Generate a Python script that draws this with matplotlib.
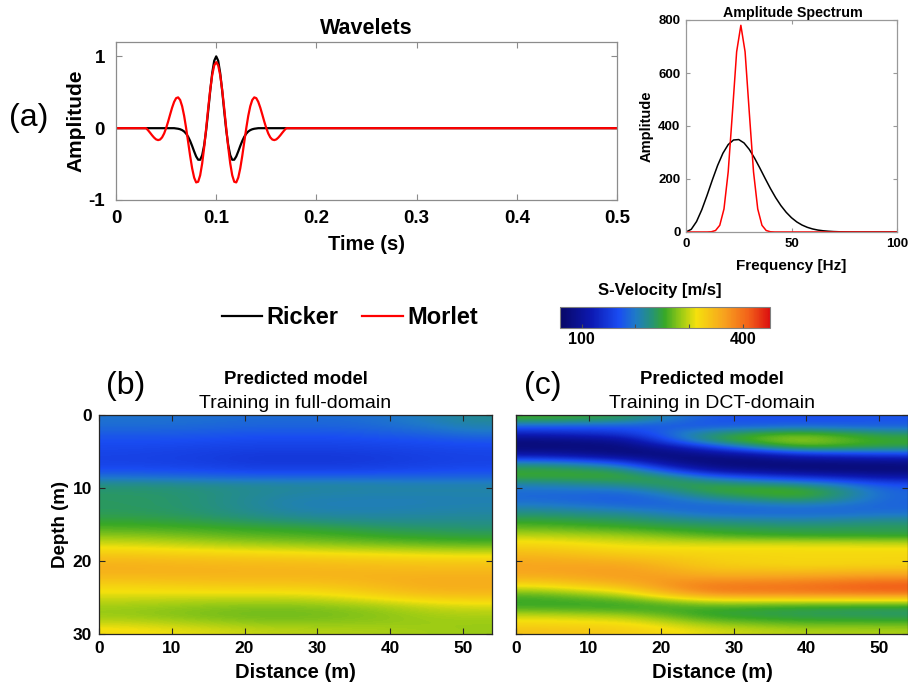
import numpy as np
import matplotlib
matplotlib.use('Agg')
import matplotlib.pyplot as plt
from matplotlib.colors import LinearSegmentedColormap

plt.rcParams['font.family'] = ['Liberation Sans', 'DejaVu Sans']
plt.rcParams['font.weight'] = 'bold'
plt.rcParams['axes.labelweight'] = 'bold'
plt.rcParams['axes.unicode_minus'] = False

# ---- wavelets (a), sampled every 2 ms between 0.03 s and 0.17 s ----
wave_t = np.round(np.arange(0.030, 0.1701, 0.002), 3)
ricker = [0, 0, 0, 0, 0, 0, 0, 0, 0, 0, 0, 0, 0, 0, 0,
          -0.004, -0.008, -0.015, -0.027, -0.046, -0.076, -0.120, -0.178, -0.248, -0.324,
          -0.394, -0.439, -0.440, -0.376, -0.237, -0.026, 0.238, 0.517, 0.766, 0.938,
          1.0,
          0.938, 0.766, 0.517, 0.238, -0.026, -0.237, -0.376, -0.440, -0.439, -0.394,
          -0.324, -0.248, -0.178, -0.120, -0.076, -0.046, -0.027, -0.015, -0.008, -0.004,
          0, 0, 0, 0, 0, 0, 0, 0, 0, 0, 0, 0, 0, 0, 0]
morlet = [0, -0.029, -0.063, -0.099, -0.131, -0.156, -0.166, -0.158, -0.128, -0.075,
          0, 0.091, 0.190, 0.286, 0.366, 0.418, 0.429, 0.393, 0.306, 0.172,
          0, -0.193, -0.387, -0.560, -0.689, -0.755, -0.746, -0.656, -0.491, -0.265,
          0, 0.276, 0.531, 0.738, 0.873,
          0.92,
          0.873, 0.738, 0.531, 0.276, 0,
          -0.265, -0.491, -0.656, -0.746, -0.755, -0.689, -0.560, -0.387, -0.193, 0,
          0.172, 0.306, 0.393, 0.429, 0.418, 0.366, 0.286, 0.190, 0.091, 0,
          -0.075, -0.128, -0.158, -0.166, -0.156, -0.131, -0.099, -0.063, -0.029, 0]

# ---- amplitude spectra ----
freq_ricker = np.arange(0, 100.1, 2.5)
spec_ricker = [0, 10.2, 39.5, 84.3, 138.8, 196.8, 251.5, 297.3, 329.9, 347.2,
               348.8, 336.1, 311.6, 278.8, 241.3, 202.2, 164.3, 129.6, 99.4, 74.2,
               53.8, 38.0, 26.2, 17.6, 11.5, 7.3, 4.6, 2.8, 1.6, 0.9,
               0.5, 0.3, 0.1, 0, 0, 0, 0, 0, 0, 0, 0]
freq_morlet = [0, 10, 12, 14, 16, 18, 20, 22, 24, 26, 28, 30, 32, 34, 36, 38, 40, 42, 100]
spec_morlet = [0, 0.1, 0.9, 5.6, 25.3, 86.9, 227, 450.6, 680, 780, 680, 450.6, 227,
               86.9, 25.3, 5.6, 0.9, 0.1, 0]

# ---- predicted S-velocity models [m/s]: rows depth 0.5..29.5 m, cols distance 3..51 m ----
model_full = [
    [195, 195, 193, 190, 190, 190, 195, 205, 220],
    [190, 190, 188, 185, 185, 185, 190, 198, 210],
    [180, 180, 178, 175, 175, 175, 180, 185, 195],
    [170, 170, 168, 165, 165, 165, 168, 170, 175],
    [165, 163, 160, 158, 158, 158, 160, 163, 165],
    [160, 158, 155, 150, 150, 150, 153, 157, 160],
    [160, 158, 155, 150, 150, 150, 153, 157, 160],
    [170, 168, 165, 160, 160, 160, 162, 165, 168],
    [195, 192, 188, 185, 185, 185, 185, 185, 185],
    [225, 225, 220, 218, 215, 215, 212, 210, 210],
    [235, 233, 228, 220, 215, 213, 212, 212, 212],
    [237, 235, 228, 218, 210, 208, 207, 207, 208],
    [237, 235, 228, 218, 208, 206, 206, 208, 210],
    [240, 238, 232, 222, 215, 212, 212, 213, 215],
    [250, 247, 242, 235, 230, 225, 222, 222, 222],
    [262, 260, 257, 253, 250, 245, 238, 235, 232],
    [280, 276, 270, 265, 262, 258, 252, 248, 245],
    [300, 296, 290, 284, 280, 275, 270, 265, 262],
    [320, 316, 312, 308, 305, 300, 297, 293, 290],
    [340, 337, 334, 332, 330, 327, 324, 320, 318],
    [352, 350, 348, 346, 345, 342, 340, 338, 338],
    [352, 352, 352, 351, 350, 350, 349, 348, 348],
    [340, 342, 344, 345, 345, 348, 352, 355, 355],
    [322, 325, 328, 330, 330, 335, 345, 355, 355],
    [310, 310, 310, 310, 310, 318, 330, 343, 345],
    [295, 293, 290, 290, 290, 295, 305, 315, 320],
    [285, 282, 278, 275, 275, 278, 285, 295, 300],
    [285, 280, 275, 272, 272, 275, 280, 287, 290],
    [300, 295, 288, 282, 280, 282, 283, 285, 285],
    [318, 312, 305, 298, 295, 292, 290, 287, 285],
]
model_dct = [
    [255, 250, 240, 205, 175, 172, 170, 172, 175],
    [185, 180, 178, 175, 175, 180, 185, 182, 180],
    [130, 140, 150, 190, 230, 250, 265, 250, 235],
    [78, 85, 95, 170, 240, 270, 290, 270, 255],
    [75, 75, 75, 100, 150, 210, 255, 250, 240],
    [115, 100, 80, 75, 85, 100, 130, 140, 150],
    [210, 195, 160, 90, 72, 72, 78, 80, 85],
    [250, 245, 235, 160, 100, 85, 75, 72, 72],
    [252, 253, 253, 235, 190, 165, 145, 128, 110],
    [210, 218, 225, 245, 245, 235, 225, 200, 170],
    [190, 190, 190, 215, 250, 260, 265, 230, 185],
    [188, 183, 178, 190, 215, 230, 245, 220, 185],
    [205, 198, 190, 185, 185, 190, 195, 190, 185],
    [230, 225, 220, 205, 190, 188, 188, 190, 195],
    [250, 245, 240, 232, 225, 220, 215, 220, 225],
    [270, 264, 258, 250, 245, 242, 240, 240, 240],
    [295, 290, 285, 275, 262, 255, 250, 249, 248],
    [318, 312, 305, 302, 300, 300, 300, 298, 295],
    [335, 328, 320, 318, 318, 318, 318, 318, 318],
    [352, 346, 340, 332, 325, 322, 320, 320, 320],
    [362, 361, 360, 345, 330, 326, 322, 323, 325],
    [362, 365, 368, 358, 345, 345, 345, 348, 350],
    [345, 355, 365, 370, 370, 372, 375, 380, 385],
    [310, 325, 340, 375, 395, 398, 400, 410, 420],
    [270, 285, 300, 345, 380, 383, 385, 388, 390],
    [252, 255, 260, 280, 300, 300, 300, 300, 300],
    [262, 258, 255, 255, 255, 250, 245, 242, 240],
    [300, 295, 290, 270, 250, 245, 240, 238, 235],
    [320, 318, 315, 300, 280, 272, 265, 265, 265],
    [338, 334, 330, 318, 305, 298, 292, 291, 290],
]
vel_ticks = [100, 200, 300, 400]
vel_ticklabels = ['100', '', '', '400']

# colormap (jet-like, as in the figure)
cmap = LinearSegmentedColormap.from_list('vel', [
    (0.00, (0.03, 0.03, 0.40)),
    (0.15, (0.05, 0.10, 0.70)),
    (0.28, (0.10, 0.30, 0.95)),
    (0.36, (0.12, 0.48, 0.78)),
    (0.44, (0.15, 0.58, 0.45)),
    (0.50, (0.22, 0.66, 0.15)),
    (0.58, (0.62, 0.80, 0.08)),
    (0.65, (0.96, 0.88, 0.05)),
    (0.78, (0.97, 0.64, 0.12)),
    (0.90, (0.95, 0.38, 0.10)),
    (1.00, (0.86, 0.06, 0.06))])
vmin, vmax = 60, 450

W, H = 908.0, 688.0
def fx(px):
    return px / W
def fy(py):
    return 1 - py / H

def box(ax, color, length=4):
    for s in ax.spines.values():
        s.set_color(color)
        s.set_linewidth(0.9)
    ax.tick_params(direction='in', top=True, right=True, color=color, length=length)

fig = plt.figure(figsize=(9.08, 6.88), dpi=100)

# (a) wavelets
ax1 = fig.add_axes([fx(116), fy(200), fx(617 - 116), (200 - 42) / H])
t_full = np.r_[0.0, wave_t, 0.5]
l1, = ax1.plot(t_full, np.r_[0, ricker, 0], color='black', lw=1.6)
l2, = ax1.plot(t_full, np.r_[0, morlet, 0], color='red', lw=1.6)
ax1.set_xlim(0, 0.5)
ax1.set_ylim(-1, 1.2)
ax1.set_xticks([0, 0.1, 0.2, 0.3, 0.4, 0.5])
ax1.set_xticklabels(['0', '0.1', '0.2', '0.3', '0.4', '0.5'])
ax1.set_yticks([-1, 0, 1])
box(ax1, '0.55')
ax1.tick_params(axis='x', labelsize=13.5, pad=7)
ax1.tick_params(axis='y', labelsize=13.5, pad=8)
ax1.set_xlabel('Time (s)', fontsize=14.5, labelpad=6)
ax1.set_ylabel('Amplitude', fontsize=15, labelpad=2)
fig.text(fx(366), fy(28), 'Wavelets', ha='center', va='center', fontsize=15.5)
fig.text(fx(29), fy(118), '(a)', ha='center', va='center', fontsize=23, fontweight='normal')

# amplitude spectrum
ax2 = fig.add_axes([fx(686), fy(232), fx(897 - 686), (232 - 20) / H])
ax2.plot(freq_ricker, spec_ricker, color='black', lw=1.1)
ax2.plot(freq_morlet, spec_morlet, color='red', lw=1.1)
ax2.set_xlim(0, 100)
ax2.set_ylim(0, 800)
ax2.set_xticks([0, 50, 100])
ax2.set_yticks([0, 200, 400, 600, 800])
box(ax2, '0.6', length=3)
ax2.tick_params(labelsize=9.5, pad=4)
ax2.set_xlabel('Frequency [Hz]', fontsize=11, labelpad=7)
ax2.set_ylabel('Amplitude', fontsize=10.5, labelpad=3)
fig.text(fx(793), fy(13), 'Amplitude Spectrum', ha='center', va='center', fontsize=10.3)

# legend
fig.legend([l1, l2], ['Ricker', 'Morlet'], loc='center', bbox_to_anchor=(fx(350), fy(318)),
           ncol=2, frameon=False, prop={'weight': 'bold', 'size': 17},
           handlelength=1.7, handletextpad=0.2, columnspacing=1.0)

# (b) and (c) models
panels = [(99, 492, model_full, 'Training in full-domain', '(b)', True),
          (516, 908, model_dct, 'Training in DCT-domain', '(c)', False)]
for x0, x1, model, sub, tag, show_y in panels:
    ax = fig.add_axes([fx(x0), fy(634), fx(x1 - x0), (634 - 415) / H])
    im = ax.imshow(np.array(model, dtype=float), cmap=cmap, vmin=vmin, vmax=vmax,
                   extent=[0, 54, 30, 0], aspect='auto', interpolation='bicubic')
    ax.set_xlim(0, 54)
    ax.set_ylim(30, 0)
    ax.set_xticks([0, 10, 20, 30, 40, 50])
    ax.set_yticks([0, 10, 20, 30])
    box(ax, '0.15')
    ax.tick_params(labelsize=12.5, pad=5)
    ax.set_xlabel('Distance (m)', fontsize=14.5, labelpad=5)
    if show_y:
        ax.set_ylabel('Depth (m)', fontsize=13.5, labelpad=3)
    else:
        ax.set_yticklabels([])
    xc = (x0 + min(x1, 908)) / 2.0
    fig.text(fx(xc), fy(380), 'Predicted model', ha='center', va='center', fontsize=13.3)
    fig.text(fx(xc), fy(403), sub, ha='center', va='center', fontsize=14, fontweight='normal')
    fig.text(fx(x0 + 27), fy(386), tag, ha='center', va='center', fontsize=23, fontweight='normal')

# colorbar
cax = fig.add_axes([fx(560), fy(328), fx(210), 21 / H])
cb = fig.colorbar(im, cax=cax, orientation='horizontal')
cb.set_ticks(vel_ticks)
cb.set_ticklabels(vel_ticklabels)
cb.outline.set_edgecolor('0.5')
cax.tick_params(direction='in', length=3, labelsize=11.5, pad=3, color='0.3')
fig.text(fx(660), fy(291), 'S-Velocity [m/s]', ha='center', va='center', fontsize=12)

fig.savefig('out.png', dpi=100)
